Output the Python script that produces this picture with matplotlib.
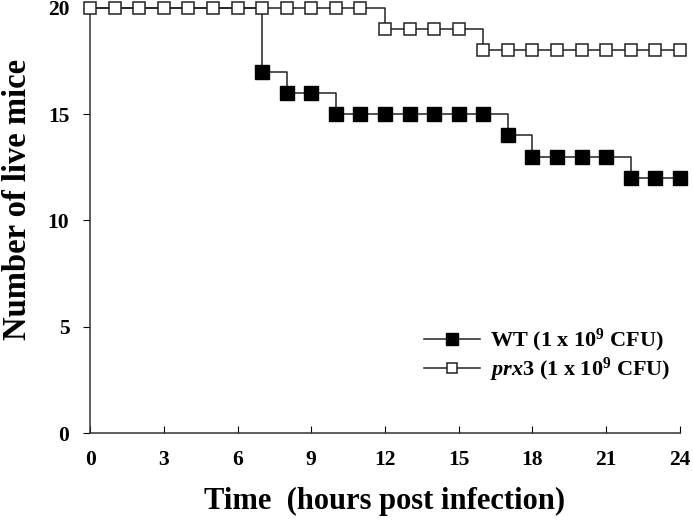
import matplotlib
matplotlib.use('agg')
import matplotlib.pyplot as plt

# Survival counts per hour
hours = list(range(0, 25))
wt_alive = [20, 20, 20, 20, 20, 20, 20, 17, 16, 16, 15, 15, 15, 15, 15, 15, 15,
            14, 13, 13, 13, 13, 12, 12, 12]
prx3_alive = [20, 20, 20, 20, 20, 20, 20, 20, 20, 20, 20, 20, 19, 19, 19, 19, 18,
              18, 18, 18, 18, 18, 18, 18, 18]
x_ticks = [0, 3, 6, 9, 12, 15, 18, 21, 24]
y_ticks = [0, 5, 10, 15, 20]

plt.rcParams['font.family'] = ['Liberation Serif']
plt.rcParams['font.weight'] = 'bold'
plt.rcParams['mathtext.fontset'] = 'custom'
plt.rcParams['mathtext.rm'] = 'Liberation Serif:bold'
plt.rcParams['mathtext.it'] = 'Liberation Serif:italic:bold'
plt.rcParams['mathtext.bf'] = 'Liberation Serif:bold'

fig = plt.figure(figsize=(6.93, 5.2), dpi=100)
ax = fig.add_axes([0.13, 0.167, 0.851, 0.818])

# WT markers hidden under the open squares while both groups are at 20
ax.plot(hours, wt_alive, drawstyle='steps-post', color='#222222', lw=1.1,
        marker='s', markersize=9.5, markerfacecolor='black', markeredgecolor='black',
        markevery=slice(7, None), clip_on=False, zorder=3,
        label=r'WT (1 x 10$^{\mathrm{9}}$ CFU)')
ax.plot(hours, prx3_alive, drawstyle='steps-post', color='#222222', lw=1.1,
        marker='s', markersize=9, markerfacecolor='white', markeredgecolor='#222222',
        markeredgewidth=1.1, clip_on=False, zorder=4,
        label=r'$\mathit{prx}$3 (1 x 10$^{\mathrm{9}}$ CFU)')

ax.set_xlim(0, 24)
ax.set_ylim(0, 20)
ax.set_xticks(x_ticks)
ax.set_yticks(y_ticks)
ax.spines['top'].set_visible(False)
ax.spines['right'].set_visible(False)
for s in ('left', 'bottom'):
    ax.spines[s].set_color('#333333')
    ax.spines[s].set_linewidth(1.1)
ax.tick_params(axis='x', direction='in', length=5, pad=12, labelsize=15.5)
ax.tick_params(axis='y', direction='out', length=5, pad=10, labelsize=15.5)

ax.set_xlabel('Time  (hours post infection)', fontsize=22, fontweight='bold', labelpad=12)
ax.set_ylabel('Number of live mice', fontsize=23.5, fontweight='bold')
ax.yaxis.set_label_coords(-0.097, 0.55)

ax.legend(loc='lower right', bbox_to_anchor=(1.006, 0.085), frameon=False, fontsize=16,
          handlelength=2.5, handletextpad=0.45, labelspacing=0.05, borderaxespad=0.2,
          markerscale=0.85)

fig.savefig('out.png', dpi=100)
